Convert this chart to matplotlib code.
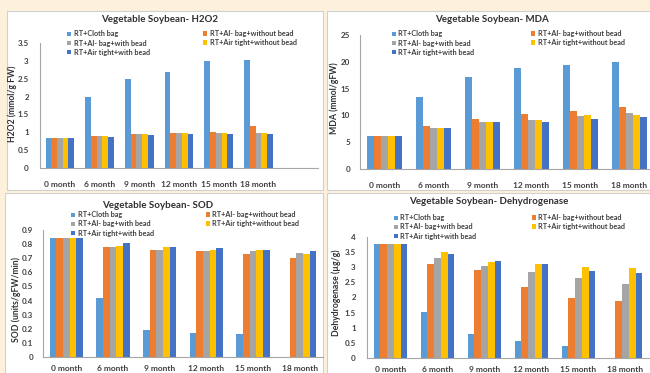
import numpy as np
import matplotlib
matplotlib.use("Agg")
import matplotlib.pyplot as plt
from matplotlib.patches import Rectangle, Patch

plt.rcParams['font.family'] = ['Lato', 'DejaVu Sans']
plt.rcParams['font.weight'] = 'bold'

months = ["0 month", "6 month", "9 month", "12 month", "15 month", "18 month"]
series = ["RT+Cloth bag", "RT+Al- bag+without bead", "RT+Al- bag+with bead",
          "RT+Air tight+without bead", "RT+Air tight+with bead"]
colors = ["#5B9BD5", "#ED7D31", "#A5A5A5", "#FFC000", "#4472C4"]

h2o2_cloth = [0.85, 2.00, 2.48, 2.70, 3.00, 3.02]
h2o2_al_nobead = [0.85, 0.90, 0.95, 0.98, 1.00, 1.17]
h2o2_al_bead = [0.85, 0.90, 0.95, 0.97, 0.97, 0.97]
h2o2_at_nobead = [0.85, 0.90, 0.95, 0.97, 0.98, 0.98]
h2o2_at_bead = [0.85, 0.88, 0.93, 0.95, 0.95, 0.95]

mda_cloth = [6.1, 13.4, 17.1, 18.9, 19.4, 19.9]
mda_al_nobead = [6.1, 8.0, 9.3, 10.2, 10.9, 11.5]
mda_al_bead = [6.1, 7.6, 8.8, 9.2, 9.8, 10.5]
mda_at_nobead = [6.1, 7.6, 8.8, 9.2, 10.0, 10.1]
mda_at_bead = [6.1, 7.6, 8.7, 8.8, 9.4, 9.7]

sod_cloth = [0.84, 0.42, 0.19, 0.17, 0.16, np.nan]
sod_al_nobead = [0.84, 0.78, 0.76, 0.75, 0.73, 0.70]
sod_al_bead = [0.84, 0.78, 0.76, 0.75, 0.75, 0.74]
sod_at_nobead = [0.84, 0.79, 0.78, 0.76, 0.76, 0.73]
sod_at_bead = [0.84, 0.81, 0.78, 0.77, 0.76, 0.75]

dh_cloth = [3.78, 1.53, 0.78, 0.55, 0.40, np.nan]
dh_al_nobead = [3.78, 3.12, 2.90, 2.35, 2.00, 1.88]
dh_al_bead = [3.78, 3.30, 3.05, 2.85, 2.65, 2.43]
dh_at_nobead = [3.78, 3.50, 3.18, 3.10, 3.02, 2.98]
dh_at_bead = [3.78, 3.45, 3.22, 3.10, 2.88, 2.80]

W, H = 650, 373
fig = plt.figure(figsize=(6.5, 3.73), dpi=100, facecolor="#FDF1DC")


def fx(x):
    return x / W


def fy(y):
    return 1 - y / H


def panel(x0, y0, x1, y1):
    fig.patches.append(Rectangle((fx(x0), fy(y1)), fx(x1) - fx(x0), fy(y0) - fy(y1),
                                 transform=fig.transFigure, facecolor="white",
                                 edgecolor="#D0D0D0", linewidth=0.8, zorder=-5))


panel(7, 11, 323, 190)
panel(327, 11, 652, 190)
panel(5, 193, 323, 380)
panel(327, 193, 652, 380)


def make(ax_box, data, ylim, ystep, yfmt, xlim_right, title, title_xy, ylabel, ylabel_xy,
         leg1, leg2, xpad, ypad):
    l, t, r, b = ax_box
    ax = fig.add_axes([fx(l), fy(b), fx(r) - fx(l), fy(t) - fy(b)])
    ax.set_facecolor("none")
    ax.set_zorder(1)
    x = np.arange(len(months))
    n = len(data)
    gw = 0.72
    bw = gw / n
    for i, (vals, c) in enumerate(zip(data, colors)):
        ax.bar(x - gw / 2 + bw * (i + 0.5), vals, width=bw, color=c, linewidth=0)
    ax.set_xlim(-0.5, xlim_right)
    ax.set_ylim(*ylim)
    ticks = np.arange(ylim[0], ylim[1] + ystep / 2, ystep)
    ax.set_yticks(ticks)
    ax.set_yticklabels([yfmt(v) for v in ticks], fontsize=5.8, color="#404040")
    ax.set_xticks(x)
    ax.set_xticklabels(months, fontsize=6, color="#404040")
    ax.tick_params(axis='both', length=0)
    ax.tick_params(axis='x', pad=xpad)
    ax.tick_params(axis='y', pad=ypad)
    for s in ["top", "right"]:
        ax.spines[s].set_visible(False)
    for s in ["left", "bottom"]:
        ax.spines[s].set_color("#A6A6A6")
        ax.spines[s].set_linewidth(0.8)
    fig.text(fx(title_xy[0]), fy(title_xy[1]), title, ha="center", va="center",
             fontsize=7, fontweight="bold", color="#303030")
    fig.text(fx(ylabel_xy[0]), fy(ylabel_xy[1]), ylabel, ha="center", va="center",
             rotation=90, fontsize=6.2, fontweight="bold", color="#303030")
    handles = [Patch(facecolor=c, edgecolor="none") for c in colors]
    kw = dict(frameon=False, fontsize=5.2, handlelength=0.55, handleheight=0.55,
              handletextpad=0.35, labelspacing=0.28, borderpad=0, borderaxespad=0,
              bbox_transform=fig.transFigure)
    lg1 = fig.legend([handles[0], handles[2], handles[4]], [series[0], series[2], series[4]],
                     loc="center left", bbox_to_anchor=(fx(leg1[0]), fy(leg1[1])), **kw)
    lg2 = fig.legend([handles[1], handles[3]], [series[1], series[3]],
                     loc="center left", bbox_to_anchor=(fx(leg2[0]), fy(leg2[1])), **kw)
    for lg in (lg1, lg2):
        lg.set_zorder(5)
        for txt in lg.get_texts():
            txt.set_color("#404040")
    return ax


make((40, 43, 318, 168),
     [h2o2_cloth, h2o2_al_nobead, h2o2_al_bead, h2o2_at_nobead, h2o2_at_bead],
     (0, 3.5), 0.5, lambda v: "%g" % v, 6.5,
     "Vegetable Soybean- H2O2", (160, 20), "H2O2 (mmol/g FW)", (12, 104),
     (67, 43), (203, 38), 9, 8)

make((360, 35, 654, 169),
     [mda_cloth, mda_al_nobead, mda_al_bead, mda_at_nobead, mda_at_bead],
     (0, 25), 5, lambda v: "%g" % v, 5.5,
     "Vegetable Soybean- MDA", (492, 20), "MDA (mmol/gFW)", (334, 98),
     (392, 43), (531, 38), 9, 7)

make((43, 230, 323, 357),
     [sod_cloth, sod_al_nobead, sod_al_bead, sod_at_nobead, sod_at_bead],
     (0, 0.9), 0.1, lambda v: "%g" % round(v, 1), 5.5,
     "Vegetable Soybean- SOD", (158, 205), "SOD (units/gFW/min)", (16, 299),
     (71, 224), (206, 219), 6, 7)

make((367, 237, 649, 358),
     [dh_cloth, dh_al_nobead, dh_al_bead, dh_at_nobead, dh_at_bead],
     (0, 4), 0.5, lambda v: "%g" % v, 5.5,
     "Vegetable Soybean- Dehydrogenase", (489, 201), "Dehydrogenase (\u00b5g/g)", (336, 293),
     (394, 227), (532, 222), 6, 8)

fig.savefig("out.png", dpi=100, facecolor=fig.get_facecolor())
